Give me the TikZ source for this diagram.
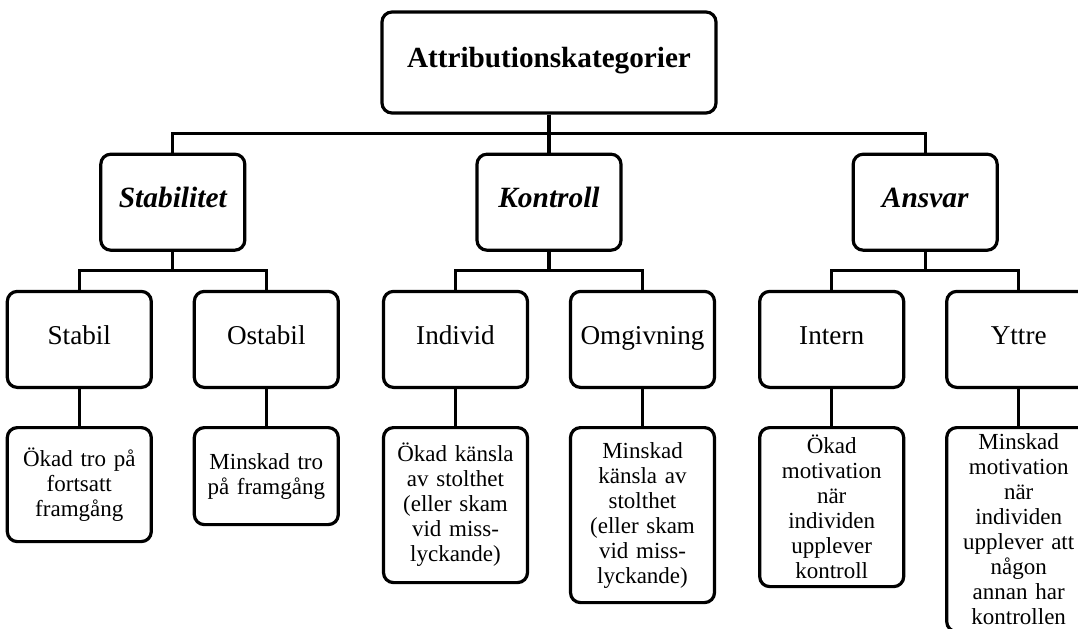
\documentclass[tikz,border=0pt]{standalone}
\usepackage{fontspec}
\setmainfont{Liberation Serif}
\usepackage{tikz}
\usetikzlibrary{positioning}

\tikzset{
  box/.style={rectangle, draw, line width=1.6pt, rounded corners=5pt, minimum width=72pt, minimum height=48pt, align=center, inner sep=2pt},
  topbox/.style={box, minimum width=167pt, minimum height=50.5pt, text height=0.72em, text depth=0.22em, font={\fontsize{14.6pt}{17pt}\selectfont\bfseries}},
  catbox/.style={box, text height=0.72em, text depth=0.22em, font={\fontsize{14.7pt}{17pt}\selectfont\bfseries\itshape}},
  subbox/.style={box, text height=0.72em, text depth=0.22em, font={\fontsize{13.6pt}{16pt}\selectfont}},
  fxbox/.style={box, text width=68pt, font={\fontsize{11.5pt}{12.5pt}\selectfont}},
  link/.style={line width=1.6pt}
}

\begin{document}
\begin{tikzpicture}

\path[use as bounding box, clip] (0,0) rectangle (539pt,-314pt);

\node[topbox] (root) at (274.5pt,-31.25pt) {Attributionskategorier};

% categories
\node[catbox, below=19pt of root] (kon) {Kontroll};
\node[catbox, left=114.5pt of kon] (stab) {Stabilitet};
\node[catbox, right=114.5pt of kon] (ansv) {Ansvar};

% sub categories
\node[subbox, below=19pt of stab, xshift=-46.75pt] (stabil) {Stabil};
\node[subbox, below=19pt of stab, xshift=46.75pt] (ostabil) {Ostabil};
\node[subbox, below=19pt of kon, xshift=-46.75pt] (indiv) {Individ};
\node[subbox, below=19pt of kon, xshift=46.75pt] (omg) {Omgivning};
\node[subbox, below=19pt of ansv, xshift=-46.75pt] (intern) {Intern};
\node[subbox, below=19pt of ansv, xshift=46.75pt] (yttre) {Yttre};

% effects
\node[fxbox, below=18.5pt of stabil, minimum height=57pt] (stabilfx) {Ökad tro på\\fortsatt\\framgång};
\node[fxbox, below=18.5pt of ostabil, minimum height=48.5pt] (ostabilfx) {Minskad tro\\på framgång};
\node[fxbox, below=18.5pt of indiv, minimum height=77.5pt] (indivfx) {Ökad känsla\\av stolthet\\(eller skam\\vid miss-\\lyckande)};
\node[fxbox, below=18.5pt of omg, minimum height=87.5pt] (omgfx) {Minskad\\känsla av\\stolthet\\(eller skam\\vid miss-\\lyckande)};
\node[fxbox, below=18.5pt of intern, minimum height=79.5pt] (internfx) {Ökad\\motivation\\när\\individen\\upplever\\kontroll};
\node[fxbox, below=18.5pt of yttre, minimum height=102pt] (yttrefx) {Minskad\\motivation\\när\\individen\\upplever att\\någon\\annan har\\kontrollen};

\draw[link] (root) -- (kon);
\draw[link] (root.south) -- ++(0,-9.5pt) -| (stab.north);
\draw[link] (root.south) -- ++(0,-9.5pt) -| (ansv.north);

\draw[link] (stab.south) -- ++(0,-9.5pt) -| (stabil.north);
\draw[link] (stab.south) -- ++(0,-9.5pt) -| (ostabil.north);
\draw[link] (kon.south) -- ++(0,-9.5pt) -| (indiv.north);
\draw[link] (kon.south) -- ++(0,-9.5pt) -| (omg.north);
\draw[link] (ansv.south) -- ++(0,-9.5pt) -| (intern.north);
\draw[link] (ansv.south) -- ++(0,-9.5pt) -| (yttre.north);

\draw[link] (stabil) -- (stabilfx);
\draw[link] (ostabil) -- (ostabilfx);
\draw[link] (indiv) -- (indivfx);
\draw[link] (omg) -- (omgfx);
\draw[link] (intern) -- (internfx);
\draw[link] (yttre) -- (yttrefx);

\end{tikzpicture}
\end{document}
